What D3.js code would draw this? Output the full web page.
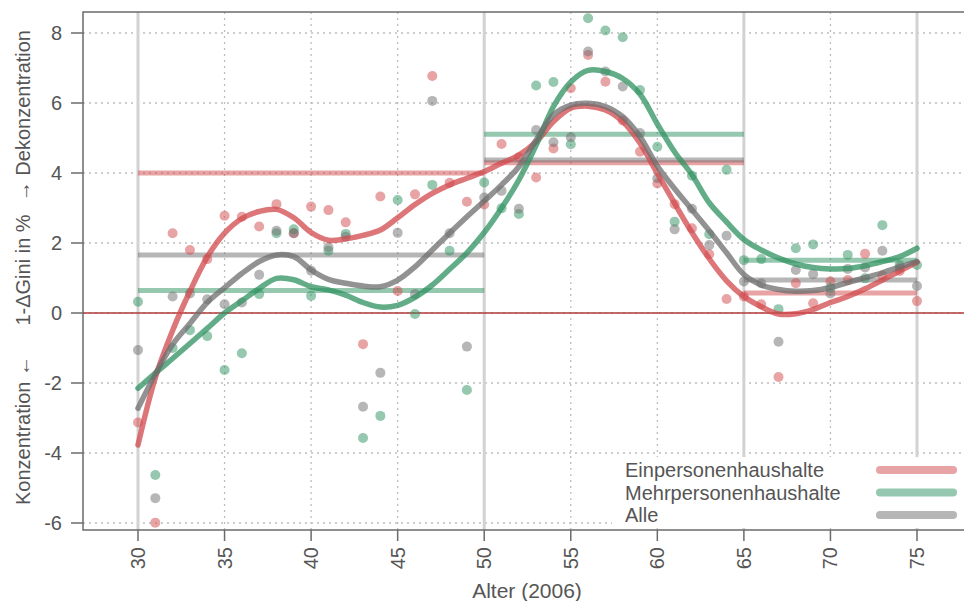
<!DOCTYPE html>
<html>
<head>
<meta charset="utf-8">
<script src="https://cdn.jsdelivr.net/npm/d3@7"></script>
<style>
  body { margin: 0; background: #fff; }
  text { font-family: "Liberation Sans", Arial, sans-serif; fill: #555; }
</style>
</head>
<body>
<div id="chart"></div>
<script>
// ages 30..75
var ages = d3.range(30, 76);

// single point per age (dots)
var einPoints = [-3.13, -5.99, 2.28, 1.8, 1.54, 2.78, 2.75, 2.47, 3.11, 2.28,
  3.04, 2.94, 2.59, -0.89, 3.33, 0.63, 3.39, 6.77, 3.72, 3.18,
  3.1, 4.83, 4.45, 3.87, 4.7, 6.42, 7.37, 6.61, 5.5, 4.61,
  3.7, 3.11, 2.42, 1.68, 0.4, 0.47, 0.25, -1.83, 0.85, 0.28,
  0.9, 0.94, 1.69, 1.07, 1.2, 0.34];
var mehrPoints = [0.32, -4.63, -1.0, -0.49, -0.66, -1.63, -1.15, 0.54, 2.28, 2.39,
  0.49, 1.78, 2.26, -3.57, -2.94, 3.23, -0.03, 3.66, 1.78, -2.2,
  3.73, 2.99, 2.83, 6.5, 6.6, 4.82, 8.42, 8.07, 7.88, 6.37,
  4.75, 2.61, 3.92, 2.25, 4.09, 1.51, 1.54, 0.11, 1.85, 1.96,
  0.72, 1.66, 0.99, 2.51, 1.37, 1.37];
var allePoints = [-1.06, -5.29, 0.47, 0.56, 0.39, 0.25, 0.3, 1.09, 2.35, 2.28,
  1.21, 1.88, 2.18, -2.68, -1.71, 2.29, 0.54, 6.06, 2.28, -0.96,
  3.3, 3.49, 2.98, 5.23, 4.88, 5.02, 7.47, 6.9, 6.47, 5.14,
  3.85, 2.39, 2.98, 1.94, 2.21, 0.9, 0.85, -0.82, 1.23, 1.11,
  0.56, 1.26, 1.3, 1.78, 1.3, 0.77];

// smoothed fits
var einFit = [-3.77, -1.85, -0.5, 0.62, 1.6, 2.28, 2.7, 2.9, 2.96, 2.72,
  2.3, 2.08, 2.12, 2.22, 2.37, 2.72, 3.1, 3.42, 3.66, 3.85,
  4.04, 4.28, 4.51, 4.89, 5.47, 5.85, 5.91, 5.8, 5.47, 4.85,
  3.99, 3.13, 2.3, 1.55, 0.92, 0.47, 0.18, -0.03, -0.02, 0.1,
  0.3, 0.47, 0.69, 0.94, 1.2, 1.45];
var mehrFit = [-2.15, -1.72, -1.3, -0.87, -0.44, 0.0, 0.35, 0.7, 0.99, 0.95,
  0.75, 0.66, 0.51, 0.3, 0.17, 0.22, 0.45, 0.8, 1.25, 1.72,
  2.3, 3.0, 3.8, 4.8, 5.9, 6.6, 6.93, 6.9, 6.7, 6.25,
  5.4, 4.6, 3.95, 3.15, 2.6, 2.1, 1.8, 1.57, 1.4, 1.3,
  1.26, 1.27, 1.35, 1.47, 1.61, 1.85];
var alleFit = [-2.72, -1.75, -0.9, -0.3, 0.3, 0.72, 1.13, 1.47, 1.66, 1.61,
  1.23, 0.96, 0.85, 0.77, 0.75, 0.94, 1.32, 1.8, 2.28, 2.75,
  3.2, 3.66, 4.18, 4.94, 5.66, 5.94, 5.99, 5.9, 5.61, 5.04,
  4.2, 3.55, 2.95, 2.35, 1.72, 1.1, 0.8, 0.67, 0.62, 0.64,
  0.73, 0.87, 1.01, 1.15, 1.32, 1.47];

// age ranges and their mean levels
var ranges = [[30, 50], [50, 65], [65, 75]];
var einMeans = [4.0, 4.29, 0.57];
var mehrMeans = [0.64, 5.11, 1.51];
var alleMeans = [1.66, 4.37, 0.94];

var xTicks = [30, 35, 40, 45, 50, 55, 60, 65, 70, 75];
var yTicks = [-6, -4, -2, 0, 2, 4, 6, 8];
var breaks = [30, 50, 65, 75];

var series = [
  { name: "Einpersonenhaushalte", color: "#d2484c", points: einPoints, fit: einFit, means: einMeans },
  { name: "Mehrpersonenhaushalte", color: "#2e9260", points: mehrPoints, fit: mehrFit, means: mehrMeans },
  { name: "Alle", color: "#6e6e6e", points: allePoints, fit: alleFit, means: alleMeans }
];

var width = 964, height = 601;
// plot frame (right edge runs off the picture)
var pLeft = 83, pTop = 12, pBottom = 530, pRight = 972;

var x = d3.scaleLinear().domain([30, 75]).range([138, 917]);
var y = d3.scaleLinear().domain([-6, 8]).range([523, 33]);

var svg = d3.select("#chart").append("svg")
    .attr("width", width)
    .attr("height", height);

// grid
svg.append("g").selectAll("line")
    .data(yTicks)
    .enter().append("line")
    .attr("x1", pLeft).attr("x2", pRight)
    .attr("y1", function (d) { return y(d); })
    .attr("y2", function (d) { return y(d); })
    .attr("stroke", "#bdbdbd")
    .attr("stroke-width", 1.3)
    .attr("stroke-dasharray", "2,4");

svg.append("g").selectAll("line")
    .data(xTicks.filter(function (d) { return breaks.indexOf(d) < 0; }))
    .enter().append("line")
    .attr("x1", function (d) { return x(d); })
    .attr("x2", function (d) { return x(d); })
    .attr("y1", pTop).attr("y2", pBottom)
    .attr("stroke", "#bdbdbd")
    .attr("stroke-width", 1.3)
    .attr("stroke-dasharray", "2,4");

svg.append("g").selectAll("line")
    .data(breaks)
    .enter().append("line")
    .attr("x1", function (d) { return x(d); })
    .attr("x2", function (d) { return x(d); })
    .attr("y1", pTop).attr("y2", pBottom)
    .attr("stroke", "#d2d2d2")
    .attr("stroke-width", 3);

// legend background
svg.append("rect")
    .attr("x", 612).attr("y", 457)
    .attr("width", 360).attr("height", 71)
    .attr("fill", "#fff");

// zero line
svg.append("line")
    .attr("x1", pLeft).attr("x2", pRight)
    .attr("y1", y(0)).attr("y2", y(0))
    .attr("stroke", "#b33a3a")
    .attr("stroke-width", 1.5);

// mean segments
series.forEach(function (s) {
  svg.append("g").selectAll("line")
      .data(ranges)
      .enter().append("line")
      .attr("x1", function (d) { return x(d[0]); })
      .attr("x2", function (d) { return x(d[1]); })
      .attr("y1", function (d, i) { return y(s.means[i]); })
      .attr("y2", function (d, i) { return y(s.means[i]); })
      .attr("stroke", s.color)
      .attr("stroke-opacity", 0.5)
      .attr("stroke-width", 5);
});

// dots
series.forEach(function (s) {
  svg.append("g").selectAll("circle")
      .data(s.points)
      .enter().append("circle")
      .attr("cx", function (d, i) { return x(ages[i]); })
      .attr("cy", function (d) { return y(d); })
      .attr("r", 5)
      .attr("fill", s.color)
      .attr("fill-opacity", 0.5);
});

// fitted curves
var line = d3.line()
    .x(function (d, i) { return x(ages[i]); })
    .y(function (d) { return y(d); })
    .curve(d3.curveCatmullRom.alpha(0.5));

series.forEach(function (s) {
  svg.append("path")
      .datum(s.fit)
      .attr("d", line)
      .attr("fill", "none")
      .attr("stroke", s.color)
      .attr("stroke-opacity", 0.75)
      .attr("stroke-width", 5.5)
      .attr("stroke-linecap", "round");
});

// frame
svg.append("path")
    .attr("d", "M" + pRight + "," + pTop + "H" + pLeft + "V" + pBottom + "H" + pRight)
    .attr("fill", "none")
    .attr("stroke", "#6b6b6b")
    .attr("stroke-width", 1.5);

// y axis
var yAxis = svg.append("g");
yAxis.selectAll("line")
    .data(yTicks)
    .enter().append("line")
    .attr("x1", 71).attr("x2", pLeft)
    .attr("y1", function (d) { return y(d); })
    .attr("y2", function (d) { return y(d); })
    .attr("stroke", "#6b6b6b")
    .attr("stroke-width", 1.5);
yAxis.selectAll("text")
    .data(yTicks)
    .enter().append("text")
    .attr("x", 62)
    .attr("y", function (d) { return y(d); })
    .attr("dy", "0.35em")
    .attr("text-anchor", "end")
    .style("font-size", "20px")
    .text(function (d) { return d; });

// x axis
var xAxis = svg.append("g");
xAxis.selectAll("line")
    .data(xTicks)
    .enter().append("line")
    .attr("x1", function (d) { return x(d); })
    .attr("x2", function (d) { return x(d); })
    .attr("y1", pBottom).attr("y2", 541)
    .attr("stroke", "#6b6b6b")
    .attr("stroke-width", 1.5);
xAxis.selectAll("text")
    .data(xTicks)
    .enter().append("text")
    .attr("transform", function (d) { return "translate(" + (x(d) + 7) + ",547)rotate(-90)"; })
    .attr("text-anchor", "end")
    .style("font-size", "20px")
    .text(function (d) { return d; });

svg.append("text")
    .attr("x", 527).attr("y", 598)
    .attr("text-anchor", "middle")
    .style("font-size", "21px")
    .text("Alter (2006)");

// y title in three parts
var yTitle = [
  { text: "Konzentration \u2190", pos: 505, anchor: "start" },
  { text: "1-\u0394Gini in %", pos: 270, anchor: "middle" },
  { text: "\u2192 Dekonzentration", pos: 30, anchor: "end" }
];
svg.append("g").selectAll("text")
    .data(yTitle)
    .enter().append("text")
    .attr("transform", function (d) { return "translate(30," + d.pos + ")rotate(-90)"; })
    .attr("text-anchor", function (d) { return d.anchor; })
    .style("font-size", "20px")
    .text(function (d) { return d.text; });

// legend
var legend = svg.append("g").selectAll("g")
    .data(series)
    .enter().append("g")
    .attr("transform", function (d, i) { return "translate(0," + (470 + i * 22.5) + ")"; });
legend.append("text")
    .attr("x", 625)
    .attr("dy", "0.35em")
    .style("font-size", "20px")
    .text(function (d) { return d.name; });
legend.append("line")
    .attr("x1", 880).attr("x2", 953)
    .attr("stroke", function (d) { return d.color; })
    .attr("stroke-opacity", 0.5)
    .attr("stroke-width", 8)
    .attr("stroke-linecap", "round");
</script>
</body>
</html>
